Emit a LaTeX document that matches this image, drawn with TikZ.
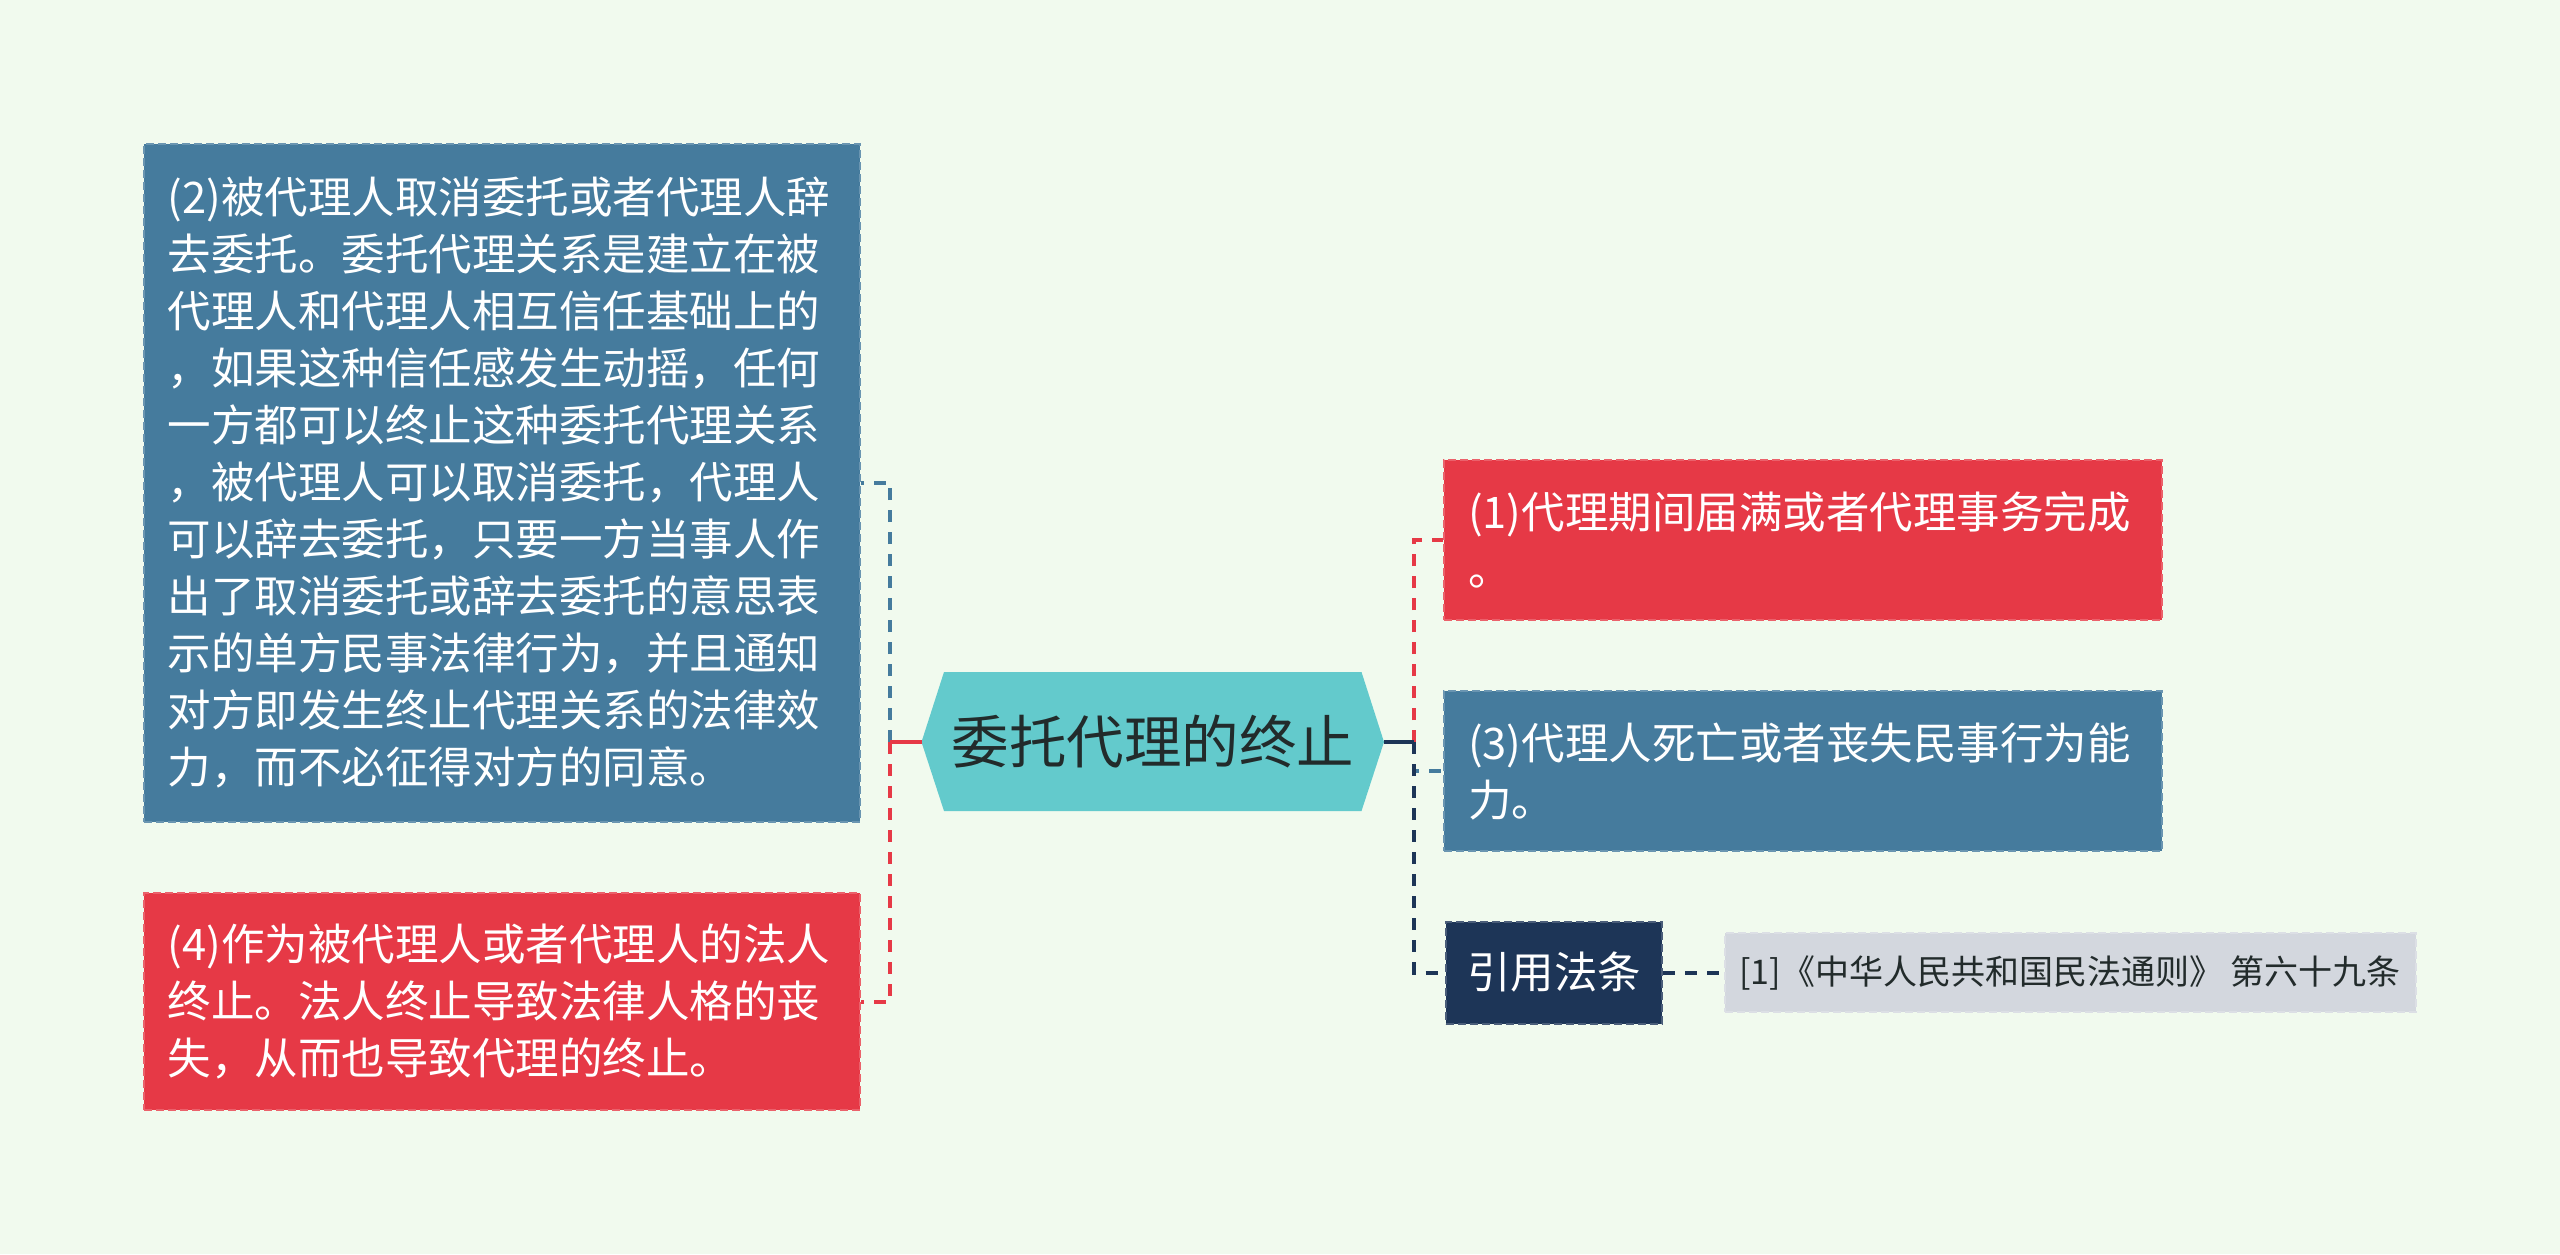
\documentclass[tikz,border=0pt]{standalone}
\usepackage{fontspec}
\setmainfont{Noto Sans CJK SC}
\newfontfamily\cjk{Noto Sans CJK SC}
\definecolor{bgc}{HTML}{F1FAEE}
\definecolor{cred}{HTML}{E63946}
\definecolor{cblue}{HTML}{457B9D}
\definecolor{cnavy}{HTML}{1D3557}
\definecolor{cteal}{HTML}{63CACC}
\definecolor{cgray}{HTML}{D3D7DE}
\definecolor{ctext}{HTML}{222B2B}
\tikzset{
  card/.style={fill=#1, draw=#1!80!white, line width=2pt, dash pattern=on 8pt off 4pt,
    text=white, align=left, inner xsep=24pt, inner ysep=0pt,
    font=\fontsize{43.5}{57}\selectfont\cjk},
  solidlink/.style={draw=#1, line width=4pt},
  dashlink/.style={draw=#1, line width=4pt, dash pattern=on 12pt off 10pt},
}
\begin{document}
\begin{tikzpicture}[x=1pt,y=-1pt]
\useasboundingbox[fill=bgc] (0,0) rectangle (2560,1254);

% hexagon root
\fill[cteal] (921.5,742) -- (944,672) -- (1361.5,672) -- (1384,742) -- (1361.5,811) -- (944,811) -- cycle;
\node[text=ctext, font=\fontsize{57.5}{60}\selectfont\cjk, inner sep=0pt] (root) at (1153,742) {委托代理的终止};
\coordinate (hexL) at (921.5,742);
\coordinate (hexR) at (1384,742);
\coordinate (jl) at (890,742);
\coordinate (jr) at (1414,742);

% left boxes
\node[card=cblue, minimum width=716pt, minimum height=678pt, text width=668pt] (b2) at (501.5,482.5)
{(2)被代理人取消委托或者代理人辞\\
去委托。委托代理关系是建立在被\\
代理人和代理人相互信任基础上的\\
，如果这种信任感发生动摇，任何\\
一方都可以终止这种委托代理关系\\
，被代理人可以取消委托，代理人\\
可以辞去委托，只要一方当事人作\\
出了取消委托或辞去委托的意思表\\
示的单方民事法律行为，并且通知\\
对方即发生终止代理关系的法律效\\
力，而不必征得对方的同意。};

\node[card=cred, minimum width=716pt, minimum height=217pt, text width=668pt] (b4) at (501.5,1001.5)
{(4)作为被代理人或者代理人的法人\\
终止。法人终止导致法律人格的丧\\
失，从而也导致代理的终止。};

% right boxes
\node[card=cred, minimum width=718pt, minimum height=160pt, text width=670pt] (b1) at (1803,540)
{(1)代理期间届满或者代理事务完成\\
。};

\node[card=cblue, minimum width=718pt, minimum height=160pt, text width=670pt] (b3) at (1803,771)
{(3)代理人死亡或者丧失民事行为能\\
力。};

\node[card=cnavy, align=center, inner xsep=0pt, minimum width=216pt, minimum height=102pt] (law) at (1554,972.5) {引用法条};

\node[card=cgray, text=ctext, align=center, inner xsep=0pt, minimum width=691pt, minimum height=79pt,
  font=\fontsize{34}{40}\selectfont\cjk] (ref) at (2070,972.5) {[1]《中华人民共和国民法通则》 第六十九条};

% connectors left
\draw[solidlink=cblue] (hexL) -- (jl);
\draw[dashlink=cblue] (jl) |- (b2.east);
\draw[solidlink=cred] (hexL) -- (jl);
\draw[dashlink=cred] (jl) |- (b4.east);

% connectors right
\draw[solidlink=cred] (hexR) -- (jr);
\draw[dashlink=cred] (jr) |- (b1.west);
\draw[solidlink=cblue] (hexR) -- (jr);
\draw[dashlink=cblue] (jr) |- (b3.west);
\draw[solidlink=cnavy] (hexR) -- (jr);
\draw[dashlink=cnavy] (jr) |- (law.west);

\draw[dashlink=cnavy] (law.east) -- (ref.west);
\end{tikzpicture}
\end{document}
